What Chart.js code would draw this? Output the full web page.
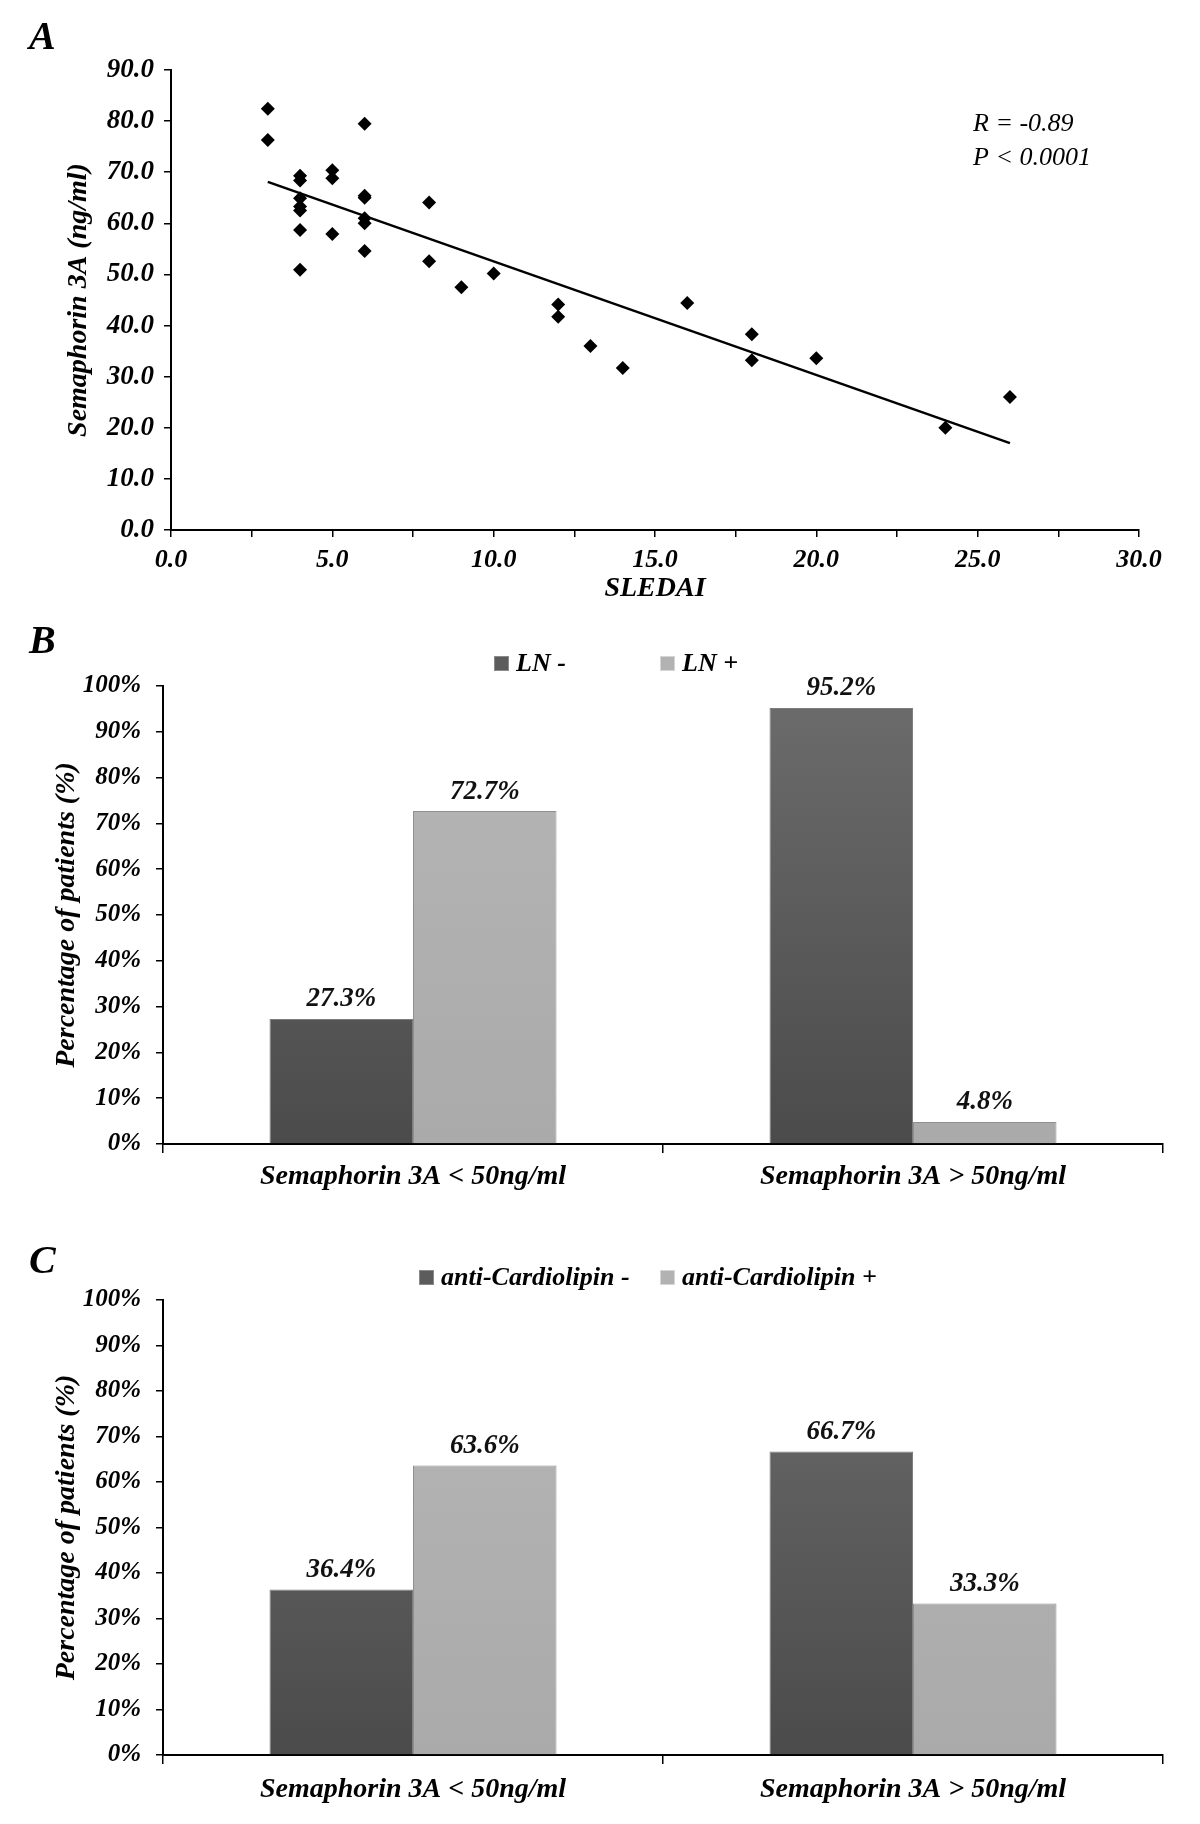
<!DOCTYPE html>
<html>
<head>
<meta charset="utf-8">
<script src="https://cdn.jsdelivr.net/npm/chart.js@4.4.1/dist/chart.umd.min.js"></script>
<style>
  body { margin: 0; background: #fff; }
  #wrap { position: relative; width: 1200px; height: 1824px; }
  canvas { position: absolute; left: 0; }
</style>
</head>
<body>
<div id="wrap">
  <canvas id="chartA" width="1200" height="620" style="top:0"></canvas>
  <canvas id="chartB" width="1200" height="610" style="top:620px"></canvas>
  <canvas id="chartC" width="1200" height="594" style="top:1230px"></canvas>
</div>
<script>
// Panel A: SLEDAI vs serum Semaphorin 3A
const sledai = [3, 3, 4, 4, 4, 4, 4, 4, 4, 5, 5, 5, 6, 6, 6, 6, 6, 6, 8, 8, 9, 10, 12, 12, 13, 14, 16, 18, 18, 20, 24, 26];
const sema3a = [82.4, 76.3, 69.3, 68.4, 64.9, 63.3, 62.5, 58.7, 50.9, 70.4, 68.8, 57.9, 79.5, 65.4, 65.0, 61.0, 60.0, 54.6,
                64.1, 52.6, 47.5, 50.2, 44.1, 41.7, 36.0, 31.7, 44.4, 38.3, 33.2, 33.6, 20.0, 26.0];
const trendX = [3, 26];
const trendY = [68.1, 17.0];

// Panels B and C
const groups = ['Semaphorin 3A < 50ng/ml', 'Semaphorin 3A > 50ng/ml'];
const lnNeg = [27.3, 95.2];
const lnPos = [72.7, 4.8];
const aclNeg = [36.4, 66.7];
const aclPos = [63.6, 33.3];

const FONT = "'Liberation Serif', 'Times New Roman', serif";
Chart.defaults.font.family = FONT;
Chart.defaults.color = '#000';
Chart.defaults.animation = false;

const bi = size => ({ family: FONT, size: size, style: 'italic', weight: 'bold' });

// loose text on the canvas (panel letters, stats)
const notes = {
    id: 'notes',
    afterDraw(chart, args, opts) {
        const ctx = chart.ctx;
        (opts.items || []).forEach(it => {
            ctx.save();
            ctx.font = it.font;
            ctx.fillStyle = '#000';
            ctx.textAlign = 'left';
            ctx.textBaseline = 'middle';
            ctx.fillText(it.text, it.x, it.y);
            ctx.restore();
        });
    }
};

// percentage on top of each bar
const valueLabels = {
    id: 'valueLabels',
    afterDatasetsDraw(chart) {
        const ctx = chart.ctx;
        ctx.save();
        ctx.font = 'italic bold 27px ' + FONT;
        ctx.fillStyle = '#111';
        ctx.textAlign = 'center';
        ctx.textBaseline = 'bottom';
        chart.data.datasets.forEach((ds, i) => {
            chart.getDatasetMeta(i).data.forEach((bar, j) => {
                ctx.fillText(ds.data[j].toFixed(1) + '%', bar.x, bar.y - 6);
            });
        });
        ctx.restore();
    }
};

// excel-like legend row with fixed slots
const legendRow = {
    id: 'legendRow',
    afterDraw(chart, args, opts) {
        const ctx = chart.ctx;
        ctx.save();
        ctx.font = 'italic bold 26px ' + FONT;
        ctx.textBaseline = 'middle';
        chart.data.datasets.forEach((ds, i) => {
            const x = opts.x[i], y = opts.y;
            ctx.fillStyle = ds.swatch;
            ctx.fillRect(x, y - 8, 15, 15);
            ctx.strokeStyle = ds.swatchEdge;
            ctx.lineWidth = 1;
            ctx.strokeRect(x + 0.5, y - 7.5, 14, 14);
            ctx.fillStyle = '#000';
            ctx.fillText(ds.label, x + 22, y);
        });
        ctx.restore();
    }
};

function shade(top, bottom) {
    return c => {
        const area = c.chart.chartArea;
        if (!area) return bottom;
        const g = c.chart.ctx.createLinearGradient(0, area.top, 0, area.bottom);
        g.addColorStop(0, top);
        g.addColorStop(1, bottom);
        return g;
    };
}

const axisLine = { display: true, color: '#000', width: 2 };

// ------ Panel A ------
new Chart(document.getElementById('chartA'), {
    type: 'scatter',
    data: {
        datasets: [{
            data: sledai.map((x, i) => ({ x: x, y: sema3a[i] })),
            pointStyle: 'rectRot',
            pointRadius: 7,
            backgroundColor: '#000',
            borderColor: '#000',
            borderWidth: 0
        }, {
            type: 'line',
            data: trendX.map((x, i) => ({ x: x, y: trendY[i] })),
            borderColor: '#000',
            borderWidth: 2.5,
            pointRadius: 0,
            fill: false
        }]
    },
    options: {
        responsive: false,
        devicePixelRatio: 1,
        layout: { padding: { top: 70, right: 61, left: 0, bottom: 0 } },
        plugins: {
            legend: { display: false },
            tooltip: { enabled: false },
            notes: { items: [
                { text: 'A', x: 29, y: 39, font: 'italic bold 40px ' + FONT },
                { text: 'R = -0.89', x: 973, y: 124, font: 'italic 26px ' + FONT },
                { text: 'P < 0.0001', x: 973, y: 158, font: 'italic 26px ' + FONT }
            ] }
        },
        scales: {
            x: {
                type: 'linear', min: 0, max: 30,
                afterFit: s => { s.height = 90; },
                border: axisLine,
                grid: { drawOnChartArea: false, drawTicks: true, tickLength: 7, color: '#000', lineWidth: 1.5 },
                ticks: {
                    stepSize: 2.5, autoSkip: false, maxRotation: 0, padding: 8, font: bi(26),
                    callback: v => (v % 5 === 0 ? v.toFixed(1) : '')
                },
                title: { display: true, text: 'SLEDAI', font: bi(28), padding: { bottom: 14 } }
            },
            y: {
                min: 0, max: 90,
                afterFit: s => { s.width = 171; },
                border: axisLine,
                grid: { drawOnChartArea: false, drawTicks: true, tickLength: 7, color: '#000', lineWidth: 1.5 },
                ticks: { stepSize: 10, padding: 10, font: bi(27), callback: v => v.toFixed(1) },
                title: { display: true, text: 'Semaphorin 3A (ng/ml)', font: bi(28), padding: { top: 62 } }
            }
        }
    },
    plugins: [notes]
});

// ------ Panels B & C ------
function barPanel(id, labels, neg, pos, letter, cfg) {
    return new Chart(document.getElementById(id), {
        type: 'bar',
        data: {
            labels: groups,
            datasets: [{
                label: labels[0],
                data: neg,
                backgroundColor: shade('#6c6c6c', '#4b4b4b'),
                borderColor: '#7d7d7d',
                borderWidth: 1,
                swatch: '#5c5c5c',
                swatchEdge: '#8a8a8a'
            }, {
                label: labels[1],
                data: pos,
                backgroundColor: shade('#b6b6b6', '#aaaaaa'),
                borderColor: '#8f8f8f',
                borderWidth: 1,
                swatch: '#b2b2b2',
                swatchEdge: '#d6d6d6'
            }]
        },
        options: {
            responsive: false,
            devicePixelRatio: 1,
            categoryPercentage: 0.574,
            barPercentage: 1,
            layout: { padding: { top: cfg.top, right: 37, left: 0, bottom: 0 } },
            plugins: {
                legend: { display: false },
                tooltip: { enabled: false },
                legendRow: { x: cfg.legendX, y: cfg.legendY },
                notes: { items: [{ text: letter, x: 29, y: cfg.letterY, font: 'italic bold 40px ' + FONT }] }
            },
            scales: {
                x: {
                    afterFit: s => { s.height = cfg.xh; },
                    border: axisLine,
                    grid: { offset: true, drawOnChartArea: false, drawTicks: true, tickLength: 9, color: '#000', lineWidth: 1.5 },
                    ticks: { padding: cfg.xpad, font: bi(28), maxRotation: 0 }
                },
                y: {
                    min: 0, max: 100,
                    afterFit: s => { s.width = 163; },
                    border: axisLine,
                    grid: { drawOnChartArea: false, drawTicks: true, tickLength: 7, color: '#000', lineWidth: 1.5 },
                    ticks: { stepSize: 10, padding: 15, font: bi(25), callback: v => v + '%' },
                    title: { display: true, text: 'Percentage of patients (%)', font: bi(28), padding: { top: 50 } }
                }
            }
        },
        plugins: [valueLabels, legendRow, notes]
    });
}

barPanel('chartB', ['LN -', 'LN +'], lnNeg, lnPos, 'B',
    { top: 66, xh: 86, xpad: 7, legendX: [494, 660], legendY: 44, letterY: 23 });
barPanel('chartC', ['anti-Cardiolipin -', 'anti-Cardiolipin +'], aclNeg, aclPos, 'C',
    { top: 70, xh: 69, xpad: 9, legendX: [419, 660], legendY: 48, letterY: 33 });
</script>
</body>
</html>
